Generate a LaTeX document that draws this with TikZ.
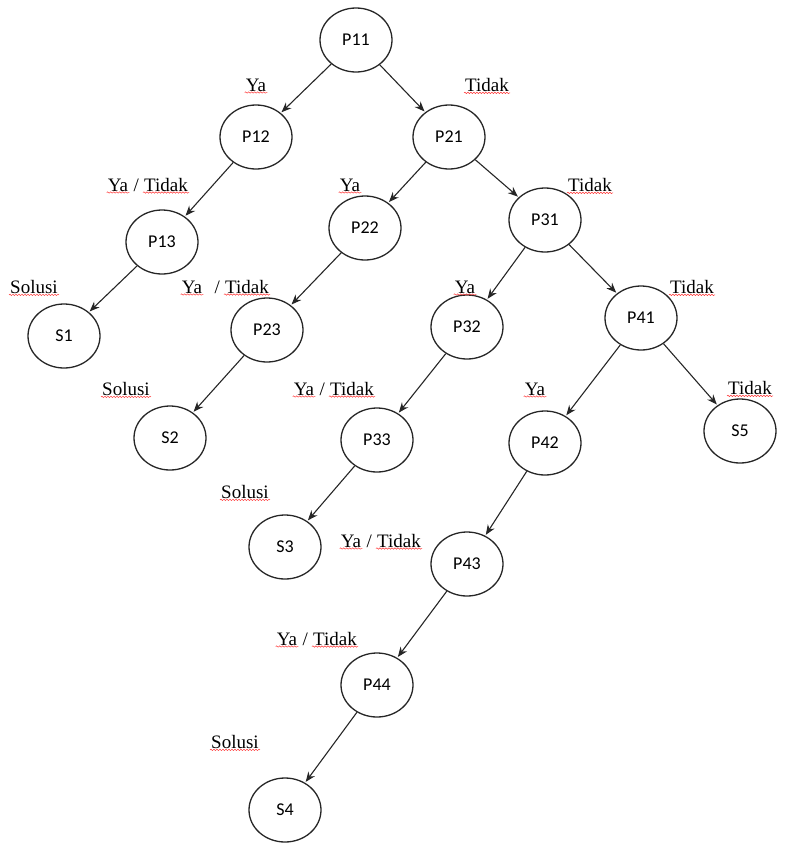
\documentclass[tikz,border=0pt]{standalone}
\usepackage{fontspec}
\setmainfont{Liberation Serif}
\newfontfamily\statefont{Carlito}
\usetikzlibrary{shapes.geometric,arrows.meta,positioning,decorations.pathmorphing}
\tikzset{
  state/.style={ellipse,draw=black!85,line width=1.3pt,minimum width=72pt,
    minimum height=64pt,inner sep=0pt,font=\statefont\fontsize{18}{18}\selectfont},
  answer/.style={font=\fontsize{19}{19}\selectfont,inner sep=1pt},
  typo/.style={append after command={(\tikzlastnode.south west)
    edge[red!80,line width=.5pt,decorate,
      decoration={snake,segment length=3pt,amplitude=.7pt}]
    (\tikzlastnode.south east)}},
  link/.style={-{Stealth[length=10pt,width=8pt]},line width=1.1pt,draw=black!85,
    shorten >=1pt}
}
\begin{document}
\begin{tikzpicture}[x=1pt,y=-1pt]
    \useasboundingbox (0,0) rectangle (785,844);
    \foreach \n/\x/\y in {P11/356/40,P12/256/137,P21/449/137,P13/162/242,
      P22/365/228,P31/545/220,P23/267/330,P32/467/327,P41/641/318,
      P33/377/440,P42/545/443,P43/467/564,P44/377/685}
    \node[state] (\n) at (\x,\y) {\n};
    \foreach \n/\x/\y in {S1/64/336,S2/170/438,S3/285/547,S4/285/810,S5/740/431}
    \node[state] (\n) at (\x,\y) {\n};
    \foreach \a/\b in {P11/P12,P11/P21,P12/P13,P13/S1,P21/P22,P21/P31,
      P22/P23,P23/S2,P31/P32,P31/P41,P32/P33,P33/S3,P41/P42,P41/S5,
      P42/P43,P43/P44,P44/S4}
    \draw[link] (\a) -- (\b);
    % jawaban
    \node[answer,typo] (ya1) at (256,85) {Ya};
    \node[answer,typo] (tidak1) at (487,85) {Tidak};
    \node[answer,typo] (ya2) at (350,185) {Ya};
    \node[answer,typo] (tidak2) at (590,185) {Tidak};
    \node[answer,typo] (ya3) at (465,287) {Ya};
    \node[answer,typo] (tidak3) at (692,287) {Tidak};
    \node[answer,typo] (ya4) at (535,389) {Ya};
    \node[answer,typo] (tidak4) at (750,388) {Tidak};
    \node[answer,typo] (sol1) at (34,287) {Solusi};
    \node[answer,typo] (sol2) at (126,389) {Solusi};
    \node[answer,typo] (sol3) at (245,492) {Solusi};
    \node[answer,typo] (sol4) at (235,742) {Solusi};
    % ya / tidak
    \node[answer,typo] (yt1) at (118,185) {Ya};
    \node[answer,base right=3pt of yt1] (yt1s) {/};
    \node[answer,typo,base right=3pt of yt1s] (yt1t) {Tidak};
    \node[answer,typo] (yt2) at (192,287) {Ya};
    \node[answer,base right=10pt of yt2] (yt2s) {/};
    \node[answer,typo,base right=3pt of yt2s] (yt2t) {Tidak};
    \node[answer,typo] (yt3) at (304,389) {Ya};
    \node[answer,base right=3pt of yt3] (yt3s) {/};
    \node[answer,typo,base right=3pt of yt3s] (yt3t) {Tidak};
    \node[answer,typo] (yt4) at (351,541) {Ya};
    \node[answer,base right=3pt of yt4] (yt4s) {/};
    \node[answer,typo,base right=3pt of yt4s] (yt4t) {Tidak};
    \node[answer,typo] (yt5) at (287,639) {Ya};
    \node[answer,base right=3pt of yt5] (yt5s) {/};
    \node[answer,typo,base right=3pt of yt5s] (yt5t) {Tidak};
\end{tikzpicture}
\end{document}
